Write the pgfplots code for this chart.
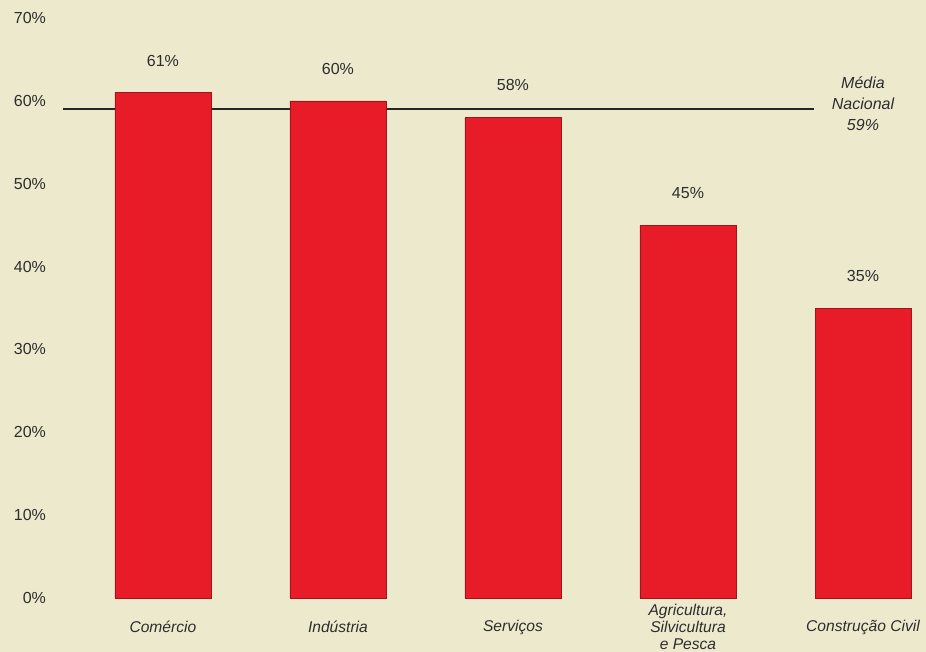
\documentclass[border=0pt]{standalone}
\usepackage{pgfplots}
\pgfplotsset{compat=1.18}
\usepackage{fontspec}
\setmainfont{Liberation Sans}
\definecolor{bg}{RGB}{236,233,205}
\definecolor{barred}{RGB}{232,28,40}
\definecolor{txt}{RGB}{45,45,45}
\begin{document}
\begin{tikzpicture}
\fill[bg] (-31.5pt,-27pt) rectangle (431.5pt,299pt);
\begin{axis}[
  scale only axis,
  width=431.5pt, height=290pt,
  xmin=-0.571, xmax=4.36,
  ymin=0, ymax=70,
  axis line style={draw=none},
  tick style={draw=none},
  clip=false,
  ytick={0,10,...,70},
  yticklabel={\pgfmathprintnumber{\tick}\%},
  yticklabel style={anchor=east, xshift=-5pt},
  xtick={0,1,2,3,4},
  xticklabels={Comércio, Indústria, Serviços, {Agricultura,\\Silvicultura\\e Pesca}, Construção Civil},
  xticklabel style={align=center, anchor=center, yshift=-14.5pt, font=\fontsize{7.8}{8.4}\selectfont\itshape},
  ticklabel style={text=txt},
  /pgf/number format/assume math mode=true,
  font=\fontsize{8}{10}\selectfont,
]
\addplot[black!85, line width=1pt] coordinates {(-0.571,59) (3.72,59)};
\addplot[ybar, bar width=48pt, bar shift=0pt, fill=barred, draw=barred!70!black, line width=0.3pt,
  nodes near coords={\pgfmathprintnumber{\pgfplotspointmeta}\%},
  nodes near coords style={text=txt, anchor=center, yshift=16pt, font=\fontsize{8}{10}\selectfont},
  point meta=y]
  coordinates {(0,61) (1,60) (2,58) (3,45) (4,35)};
\node[align=center, text=txt, font=\fontsize{8}{10.5}\selectfont\itshape] at (axis cs:4.0,59.6) {Média\\Nacional\\59\%};
\end{axis}
\pgfresetboundingbox
\path[use as bounding box] (-31.5pt,-27pt) rectangle (431.5pt,299pt);
\end{tikzpicture}
\end{document}
